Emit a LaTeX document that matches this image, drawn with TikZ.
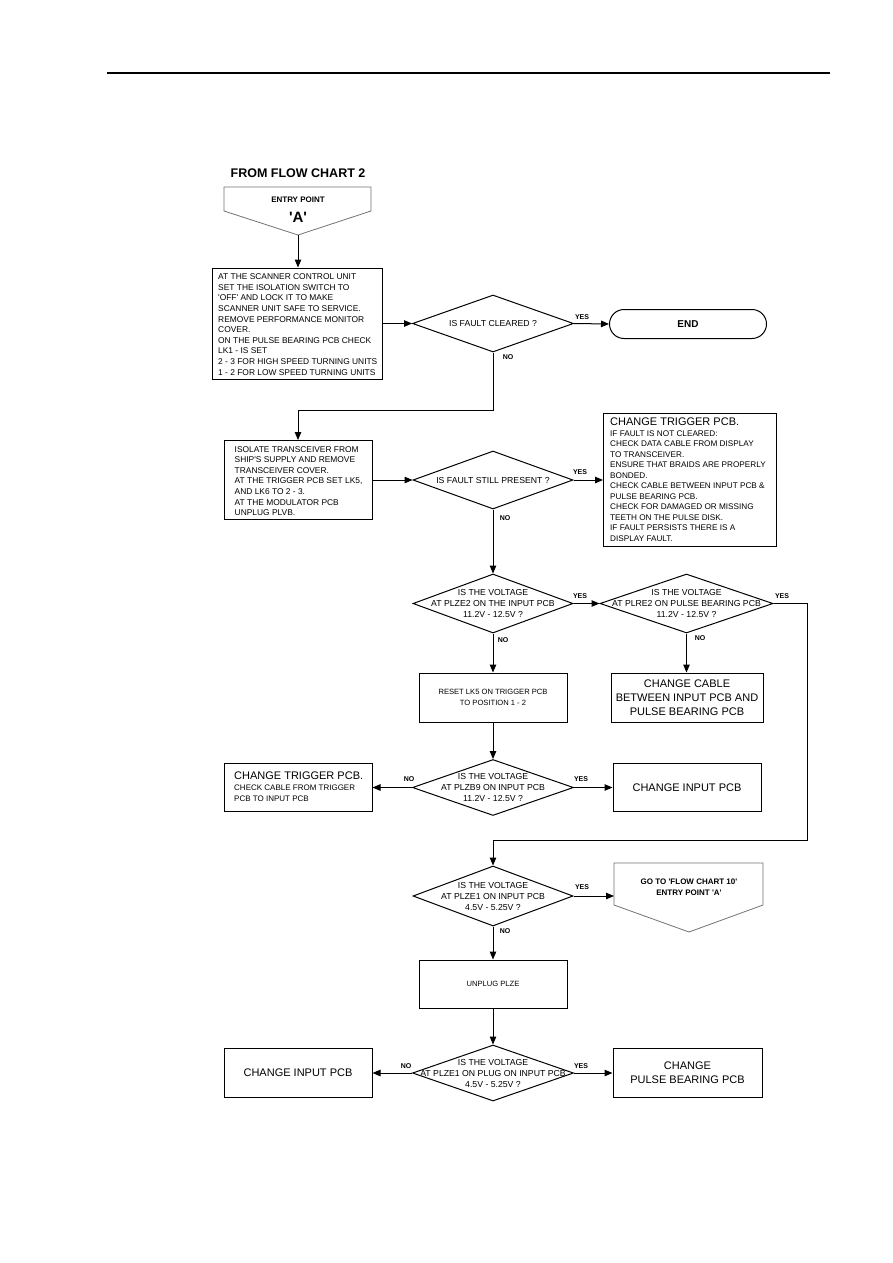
\documentclass[tikz,border=0pt]{standalone}
\usepackage{fontspec}
\setmainfont{Liberation Sans}
\usetikzlibrary{shapes.geometric,arrows.meta}
\newcommand{\myq}{\textquotesingle}
\begin{document}
\begin{tikzpicture}[x=1pt,y=-1pt,
  lw/.style={line width=1pt},
  box/.style={draw,lw,rectangle,inner sep=0pt},
  dia/.style={draw,lw,diamond,inner sep=0pt},
  pent/.style={draw=black!55,line width=0.8pt},
  dt/.style={font=\fontsize{8.7}{11}\selectfont,align=center,inner sep=0pt},
  sm/.style={font=\fontsize{8.2}{10.5}\selectfont,inner sep=0pt},
  bt/.style={font=\fontsize{8.4}{10.6}\selectfont,inner sep=0pt,align=left,anchor=west},
  bg/.style={font=\fontsize{11}{14}\selectfont,align=center,inner sep=0pt},
  lab/.style={font=\bfseries\fontsize{7}{8}\selectfont,inner sep=0pt},
  arr/.style={lw,-{Triangle[length=8pt,width=6.5pt]}}]
\useasboundingbox (0,0) rectangle (893,1263);
\fill[white] (0,0) rectangle (893,1263);
\draw[line width=1.1pt] (107,73) -- (830,73);

% entry point
\node[font=\bfseries\fontsize{12.5}{14}\selectfont,inner sep=0pt] (title) at (298,173) {FROM FLOW CHART 2};
\draw[pent] (224,187) -- (371,187) -- (371,211) -- (298,235) -- (224,211) -- cycle;
\coordinate (e1) at (298,235);
\node[font=\bfseries\fontsize{8}{9}\selectfont,inner sep=0pt] (e1a) at (298,200) {ENTRY POINT};
\node[font=\bfseries\fontsize{15}{16}\selectfont,inner sep=0pt] (e1b) at (298,217) {\myq A\myq};

% box 1
\node[box,minimum width=170pt,minimum height=111pt] (b1) at (297,323.5) {};
\node[bt] (b1t) at (218,324.5)
 {AT THE SCANNER CONTROL UNIT\\SET THE ISOLATION SWITCH TO\\\myq OFF\myq{} AND LOCK IT TO MAKE\\SCANNER UNIT SAFE TO SERVICE.\\REMOVE PERFORMANCE MONITOR\\COVER.\\ON THE PULSE BEARING PCB CHECK\\LK1 - IS SET\\2 - 3 FOR HIGH SPEED TURNING UNITS\\1 - 2 FOR LOW SPEED TURNING UNITS};

% decision 1 and END
\node[dia,minimum width=161pt,minimum height=57pt] (d1) at (493,323.5) {};
\node[dt] (d1t) at (d1) {IS FAULT CLEARED ?};
\node[draw,lw,rounded corners=14.5pt,minimum width=157pt,minimum height=29pt,inner sep=0pt,
      font=\bfseries\fontsize{10}{11}\selectfont] (end) at (688,324) {END};

% box 2
\node[box,minimum width=148pt,minimum height=79pt] (b2) at (298,480) {};
\node[bt] (b2t) at (234.5,481)
 {ISOLATE TRANSCEIVER FROM\\SHIP\myq S SUPPLY AND REMOVE\\TRANSCEIVER COVER.\\AT THE TRIGGER PCB SET LK5,\\AND LK6 TO 2 - 3.\\AT THE MODULATOR PCB\\UNPLUG PLVB.};

% decision 2
\node[dia,minimum width=160pt,minimum height=58pt] (d2) at (493,480) {};
\node[dt] (d2t) at (d2) {IS FAULT STILL PRESENT ?};

% box 3
\node[box,minimum width=173pt,minimum height=133pt] (b3) at (690,480) {};
\node[font=\fontsize{11}{13}\selectfont,inner sep=0pt,anchor=west] (b3a) at (610,422) {CHANGE TRIGGER PCB.};
\node[sm,align=left,anchor=north west] (b3b) at (610,430.5)
 {IF FAULT IS NOT CLEARED:\\CHECK DATA CABLE FROM DISPLAY\\TO TRANSCEIVER.\\ENSURE THAT BRAIDS ARE PROPERLY\\BONDED.\\CHECK CABLE BETWEEN INPUT PCB \&\\PULSE BEARING PCB.\\CHECK FOR DAMAGED OR MISSING\\TEETH ON THE PULSE DISK.\\IF FAULT PERSISTS THERE IS A\\DISPLAY FAULT.};

% decision 3 and 4
\node[dia,minimum width=160pt,minimum height=59pt] (d3) at (493,603.5) {};
\node[dt] (d3t) at (d3) {IS THE VOLTAGE\\AT PLZE2 ON THE INPUT PCB\\11.2V - 12.5V ?};
\node[dia,minimum width=173pt,minimum height=59pt] (d4) at (686.5,603.5) {};
\node[dt] (d4t) at (d4) {IS THE VOLTAGE\\AT PLRE2 ON PULSE BEARING PCB\\11.2V - 12.5V ?};

% boxes 4 and 5
\node[box,minimum width=148pt,minimum height=49pt,align=center,font=\fontsize{7.6}{11}\selectfont] (b4) at (493,697.5)
 {RESET LK5 ON TRIGGER PCB\\TO POSITION 1 - 2};
\node[box,minimum width=152pt,minimum height=49pt,bg] (b5) at (687,697.5)
 {CHANGE CABLE\\BETWEEN INPUT PCB AND\\PULSE BEARING PCB};

% decision 5
\node[dia,minimum width=161pt,minimum height=56pt] (d5) at (493,787.5) {};
\node[dt] (d5t) at (d5) {IS THE VOLTAGE\\AT PLZB9 ON INPUT PCB\\11.2V - 12.5V ?};
\node[box,minimum width=148pt,minimum height=48pt] (b6) at (298,787.5) {};
\node[font=\fontsize{11}{13}\selectfont,inner sep=0pt,anchor=west] (b6a) at (234,776) {CHANGE TRIGGER PCB.};
\node[font=\fontsize{8}{10.5}\selectfont,inner sep=0pt,align=left,anchor=north west] (b6b) at (234,785) {CHECK CABLE FROM TRIGGER\\PCB TO INPUT PCB};
\node[box,minimum width=148pt,minimum height=48pt,bg] (b7) at (687,787.5) {CHANGE INPUT PCB};

% decision 6 and go-to
\node[dia,minimum width=160pt,minimum height=60pt] (d6) at (493,896) {};
\node[dt] (d6t) at (d6) {IS THE VOLTAGE\\AT PLZE1 ON INPUT PCB\\4.5V - 5.25V ?};
\draw[pent] (614,863) -- (763,863) -- (763,905) -- (689,932) -- (614,905) -- cycle;
\coordinate (g1) at (614,896);
\node[font=\bfseries\fontsize{8}{11}\selectfont,inner sep=0pt,align=center] (g1t) at (689,887)
 {GO TO \myq FLOW CHART 10\myq\\ENTRY POINT \myq A\myq};

% box 8
\node[box,minimum width=148pt,minimum height=48pt,font=\fontsize{7.6}{9}\selectfont] (b8) at (493,984) {UNPLUG PLZE};

% decision 7
\node[dia,minimum width=161pt,minimum height=56pt] (d7) at (493,1073) {};
\node[dt] (d7t) at (d7) {IS THE VOLTAGE\\AT PLZE1 ON PLUG ON INPUT PCB\\4.5V - 5.25V ?};
\node[box,minimum width=148pt,minimum height=49pt,bg] (b9) at (298,1073) {CHANGE INPUT PCB};
\node[box,minimum width=149pt,minimum height=49pt,bg] (b10) at (687.5,1073) {CHANGE\\PULSE BEARING PCB};

% connectors
\draw[arr] (e1) -- (b1.north -| e1);
\draw[arr] (b1.east) -- (d1.west);
\draw[arr] (d1.east) -- (end.west);
\draw[arr] (d1.south) -- ++(0,58) -| (b2.north);
\draw[arr] (b2.east) -- (d2.west);
\draw[arr] (d2.east) -- (b3.west);
\draw[arr] (d2.south) -- (d3.north);
\draw[arr] (d3.east) -- (d4.west);
\draw[arr] (d3.south) -- (b4.north);
\draw[arr] (d4.south) -- (b5.north -| d4.south);
\coordinate (r1) at (807,603.5);
\coordinate (r2) at (807,840);
\draw[arr] (d4.east) -- (r1) -- (r2) -| (d6.north);
\draw[arr] (b4.south) -- (d5.north);
\draw[arr] (d5.west) -- (b6.east);
\draw[arr] (d5.east) -- (b7.west);
\draw[arr] (d6.east) -- (g1);
\draw[arr] (d6.south) -- (b8.north);
\draw[arr] (b8.south) -- (d7.north);
\draw[arr] (d7.west) -- (b9.east);
\draw[arr] (d7.east) -- (b10.west);

% labels
\node[lab] (l1) at (582,317) {YES};
\node[lab] (l2) at (508,357) {NO};
\node[lab] (l3) at (580,472) {YES};
\node[lab] (l4) at (505,518) {NO};
\node[lab] (l5) at (580,596) {YES};
\node[lab] (l6) at (503,640) {NO};
\node[lab] (l7) at (782,596) {YES};
\node[lab] (l8) at (700,638) {NO};
\node[lab] (l9) at (409,779) {NO};
\node[lab] (l10) at (581,779) {YES};
\node[lab] (l11) at (582,887) {YES};
\node[lab] (l12) at (505,931) {NO};
\node[lab] (l13) at (406,1066) {NO};
\node[lab] (l14) at (581,1066) {YES};
\end{tikzpicture}
\end{document}
